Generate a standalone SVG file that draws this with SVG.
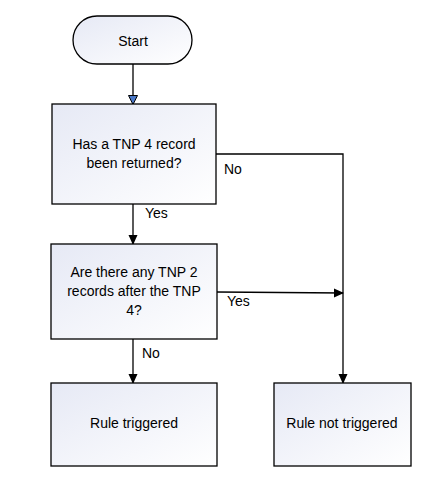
<svg xmlns="http://www.w3.org/2000/svg" width="429" height="486" viewBox="0 0 429 486">
<defs>
<linearGradient id="fill" x1="0" y1="0" x2="1" y2="1">
<stop offset="0" stop-color="#e6e9f5"/>
<stop offset="1" stop-color="#ffffff"/>
</linearGradient>
<marker id="arr" markerWidth="10" markerHeight="10" refX="9" refY="5" orient="auto" markerUnits="userSpaceOnUse">
<path d="M0,0.5 L10,5 L0,9.5 Z" fill="#000"/>
</marker>
<marker id="arrBlue" markerWidth="10" markerHeight="10" refX="9" refY="5" orient="auto" markerUnits="userSpaceOnUse">
<path d="M0.5,0.5 L9.5,5 L0.5,9.5 Z" fill="#4a78c8" stroke="#000" stroke-width="1"/>
</marker>
<style>
.shape{fill:url(#fill);stroke:#000;stroke-width:1.3}
.t{font-family:"Liberation Sans",Arial,sans-serif;font-size:14px;fill:#000;text-anchor:middle}
.lbl{font-family:"Liberation Sans",Arial,sans-serif;font-size:14px;fill:#000}
.c{fill:none;stroke:#000;stroke-width:1.3}
</style>
</defs>
<rect width="429" height="486" fill="#fff"/>
<g id="connectors">
<line class="c" x1="133" y1="64" x2="133" y2="104" marker-end="url(#arrBlue)"/>
<line class="c" x1="133" y1="204" x2="133" y2="244" marker-end="url(#arr)"/>
<line class="c" x1="133" y1="339" x2="133" y2="383" marker-end="url(#arr)"/>
<polyline class="c" points="216,154 343,154 343,383" marker-end="url(#arr)"/>
<line class="c" x1="217" y1="292" x2="343" y2="293" marker-end="url(#arr)"/>
<text class="lbl" x="224" y="174">No</text>
<text class="lbl" x="145" y="218">Yes</text>
<text class="lbl" x="227" y="306">Yes</text>
<text class="lbl" x="142" y="358">No</text>
</g>
<g id="start">
<rect class="shape" x="73" y="16" width="119" height="48" rx="24" ry="24"/>
<text class="t" x="133" y="46">Start</text>
</g>
<g id="q1">
<rect class="shape" x="52" y="104" width="164" height="100"/>
<text class="t" x="134" y="149">Has a TNP 4 record</text>
<text class="t" x="134" y="168">been returned?</text>
</g>
<g id="q2">
<rect class="shape" x="51" y="244" width="166" height="95"/>
<text class="t" x="134" y="277">Are there any TNP 2</text>
<text class="t" x="134" y="296">records after the TNP</text>
<text class="t" x="134" y="315">4?</text>
</g>
<g id="triggered">
<rect class="shape" x="51" y="383" width="166" height="83"/>
<text class="t" x="134" y="428">Rule triggered</text>
</g>
<g id="not-triggered">
<rect class="shape" x="274" y="383" width="137" height="83"/>
<text class="t" x="342" y="428">Rule not triggered</text>
</g>
</svg>
